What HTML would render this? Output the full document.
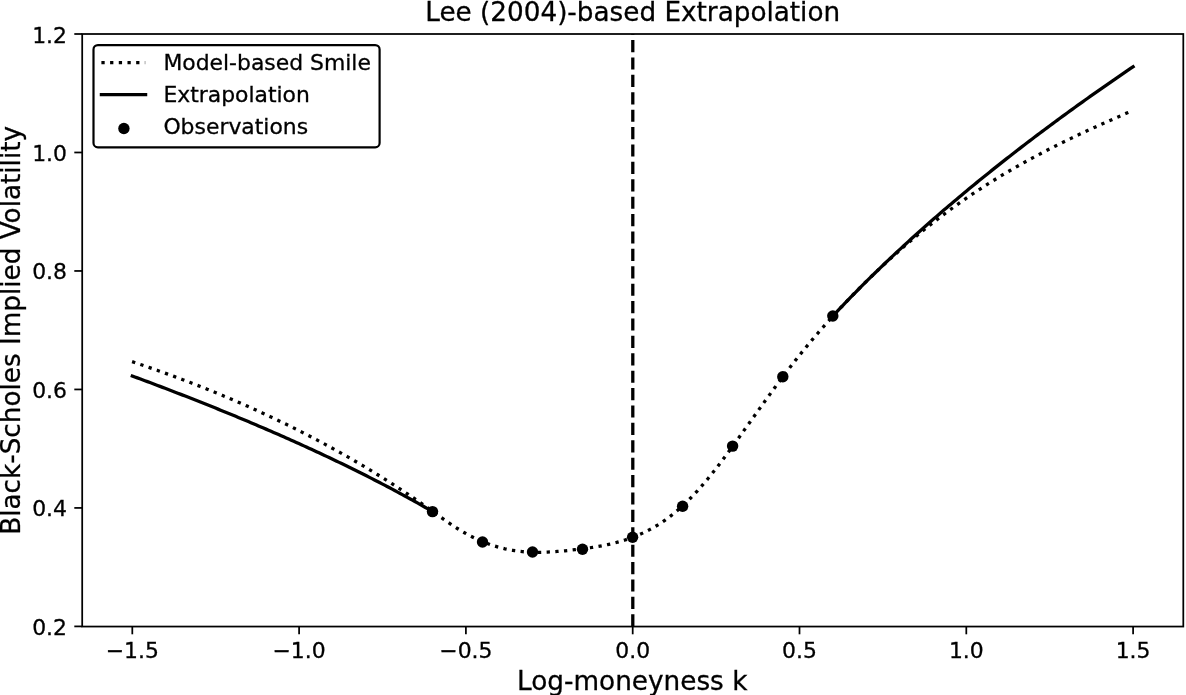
<!DOCTYPE html>
<html><head><meta charset="utf-8"><title>Lee (2004)-based Extrapolation</title>
<style>html,body{margin:0;padding:0;background:#fff;overflow:hidden}svg{display:block}text{font-family:"DejaVu Sans","Liberation Sans",sans-serif;fill:#000;stroke:#000;stroke-width:0.3px}</style></head><body>
<svg width="1186" height="695" viewBox="0 0 1186 695">
<rect width="1186" height="695" fill="#fff"/>
<g stroke="#000" stroke-width="1.75"><line x1="132.30" y1="626.4" x2="132.30" y2="634.3"/><line x1="299.10" y1="626.4" x2="299.10" y2="634.3"/><line x1="465.90" y1="626.4" x2="465.90" y2="634.3"/><line x1="632.70" y1="626.4" x2="632.70" y2="634.3"/><line x1="799.50" y1="626.4" x2="799.50" y2="634.3"/><line x1="966.30" y1="626.4" x2="966.30" y2="634.3"/><line x1="1133.10" y1="626.4" x2="1133.10" y2="634.3"/><line x1="82.2" y1="626.40" x2="74.30" y2="626.40"/><line x1="82.2" y1="507.92" x2="74.30" y2="507.92"/><line x1="82.2" y1="389.44" x2="74.30" y2="389.44"/><line x1="82.2" y1="270.96" x2="74.30" y2="270.96"/><line x1="82.2" y1="152.48" x2="74.30" y2="152.48"/><line x1="82.2" y1="34.00" x2="74.30" y2="34.00"/></g>
<g font-size="21.9"><text x="132.30" y="658.0" text-anchor="middle">−1.5</text><text x="299.10" y="658.0" text-anchor="middle">−1.0</text><text x="465.90" y="658.0" text-anchor="middle">−0.5</text><text x="632.70" y="658.0" text-anchor="middle">0.0</text><text x="799.50" y="658.0" text-anchor="middle">0.5</text><text x="966.30" y="658.0" text-anchor="middle">1.0</text><text x="1133.10" y="658.0" text-anchor="middle">1.5</text><text x="67.0" y="634.90" text-anchor="end">0.2</text><text x="67.0" y="516.42" text-anchor="end">0.4</text><text x="67.0" y="397.94" text-anchor="end">0.6</text><text x="67.0" y="279.46" text-anchor="end">0.8</text><text x="67.0" y="160.98" text-anchor="end">1.0</text><text x="67.0" y="42.50" text-anchor="end">1.2</text></g>
<path d="M132.10 361.66 L134.60 362.50 L137.11 363.35 L139.61 364.20 L142.11 365.05 L144.61 365.91 L147.12 366.78 L149.62 367.65 L152.12 368.52 L154.62 369.40 L157.13 370.29 L159.63 371.18 L162.13 372.08 L164.63 372.98 L167.14 373.89 L169.64 374.80 L172.14 375.72 L174.64 376.64 L177.15 377.57 L179.65 378.51 L182.15 379.45 L184.65 380.40 L187.16 381.35 L189.66 382.31 L192.16 383.28 L194.66 384.25 L197.17 385.23 L199.67 386.21 L202.17 387.20 L204.67 388.19 L207.18 389.20 L209.68 390.20 L212.18 391.22 L214.68 392.24 L217.19 393.27 L219.69 394.30 L222.19 395.34 L224.69 396.39 L227.20 397.44 L229.70 398.50 L232.20 399.57 L234.70 400.64 L237.21 401.72 L239.71 402.81 L242.21 403.90 L244.71 405.00 L247.22 406.11 L249.72 407.23 L252.22 408.35 L254.72 409.48 L257.23 410.61 L259.73 411.76 L262.23 412.91 L264.73 414.07 L267.24 415.23 L269.74 416.40 L272.24 417.58 L274.74 418.77 L277.25 419.97 L279.75 421.17 L282.25 422.38 L284.75 423.60 L287.26 424.82 L289.76 426.06 L292.26 427.30 L294.76 428.55 L297.27 429.80 L299.77 431.07 L302.27 432.34 L304.77 433.62 L307.28 434.91 L309.78 436.21 L312.28 437.51 L314.78 438.83 L317.29 440.15 L319.79 441.48 L322.29 442.82 L324.79 444.16 L327.30 445.52 L329.80 446.88 L332.30 448.25 L334.80 449.63 L337.31 451.02 L339.81 452.42 L342.31 453.83 L344.81 455.24 L347.32 456.67 L349.82 458.10 L352.32 459.54 L354.82 461.00 L357.33 462.46 L359.83 463.93 L362.33 465.41 L364.83 466.90 L367.34 468.40 L369.84 469.91 L372.34 471.43 L374.84 472.96 L377.35 474.50 L379.85 476.05 L382.35 477.61 L384.85 479.18 L387.36 480.76 L389.86 482.36 L392.36 483.96 L394.86 485.58 L397.37 487.20 L399.87 488.84 L402.37 490.49 L404.87 492.15 L407.38 493.82 L409.88 495.51 L412.38 497.20 L414.88 498.91 L417.39 500.63 L419.89 502.36 L422.39 504.10 L424.89 505.85 L427.40 507.61 L429.90 509.38 L432.40 511.17 L434.90 512.96 L437.41 514.76 L439.91 516.55 L442.41 518.33 L444.91 520.10 L447.42 521.85 L449.92 523.57 L452.42 525.26 L454.92 526.90 L457.43 528.50 L459.93 530.04 L462.43 531.53 L464.93 532.97 L467.44 534.36 L469.94 535.69 L472.44 536.97 L474.94 538.19 L477.45 539.36 L479.95 540.48 L482.45 541.55 L484.95 542.57 L487.46 543.53 L489.96 544.44 L492.46 545.30 L494.96 546.11 L497.47 546.87 L499.97 547.57 L502.47 548.22 L504.97 548.83 L507.48 549.38 L509.98 549.88 L512.48 550.33 L514.98 550.73 L517.49 551.08 L519.99 551.38 L522.49 551.64 L524.99 551.85 L527.50 552.02 L530.00 552.15 L532.50 552.24 L535.00 552.30 L537.51 552.32 L540.01 552.30 L542.51 552.26 L545.01 552.19 L547.52 552.08 L550.02 551.96 L552.52 551.81 L555.02 551.63 L557.53 551.44 L560.03 551.23 L562.53 551.00 L565.03 550.76 L567.54 550.50 L570.04 550.23 L572.54 549.95 L575.04 549.67 L577.55 549.38 L580.05 549.08 L582.55 548.77 L585.05 548.44 L587.56 548.10 L590.06 547.75 L592.56 547.37 L595.06 546.98 L597.57 546.56 L600.07 546.12 L602.57 545.65 L605.07 545.16 L607.58 544.63 L610.08 544.08 L612.58 543.49 L615.08 542.87 L617.59 542.21 L620.09 541.50 L622.59 540.76 L625.09 539.98 L627.60 539.15 L630.10 538.28 L632.60 537.35 L635.10 536.38 L637.61 535.35 L640.11 534.27 L642.61 533.13 L645.11 531.94 L647.62 530.69 L650.12 529.37 L652.62 527.99 L655.12 526.55 L657.63 525.04 L660.13 523.46 L662.63 521.81 L665.13 520.08 L667.64 518.28 L670.14 516.41 L672.64 514.45 L675.14 512.42 L677.65 510.30 L680.15 508.10 L682.65 505.82 L685.15 503.46 L687.66 501.02 L690.16 498.51 L692.66 495.92 L695.16 493.26 L697.67 490.53 L700.17 487.73 L702.67 484.87 L705.17 481.94 L707.68 478.95 L710.18 475.90 L712.68 472.80 L715.18 469.63 L717.69 466.42 L720.19 463.15 L722.69 459.84 L725.19 456.48 L727.70 453.09 L730.20 449.67 L732.70 446.22 L735.20 442.75 L737.71 439.26 L740.21 435.76 L742.71 432.26 L745.21 428.76 L747.72 425.25 L750.22 421.75 L752.72 418.24 L755.22 414.73 L757.73 411.24 L760.23 407.74 L762.73 404.26 L765.23 400.78 L767.74 397.32 L770.24 393.87 L772.74 390.44 L775.24 387.02 L777.75 383.63 L780.25 380.25 L782.75 376.90 L785.25 373.58 L787.76 370.28 L790.26 367.02 L792.76 363.78 L795.26 360.58 L797.77 357.41 L800.27 354.28 L802.77 351.18 L805.27 348.11 L807.78 345.08 L810.28 342.07 L812.78 339.10 L815.28 336.16 L817.79 333.24 L820.29 330.36 L822.79 327.50 L825.29 324.66 L827.80 321.85 L830.30 319.07 L832.80 316.31 L835.30 313.57 L837.81 310.85 L840.31 308.15 L842.81 305.48 L845.31 302.83 L847.82 300.20 L850.32 297.59 L852.82 295.00 L855.32 292.43 L857.83 289.89 L860.33 287.36 L862.83 284.86 L865.33 282.37 L867.84 279.91 L870.34 277.47 L872.84 275.05 L875.34 272.65 L877.85 270.27 L880.35 267.91 L882.85 265.57 L885.35 263.25 L887.86 260.94 L890.36 258.66 L892.86 256.40 L895.36 254.16 L897.87 251.93 L900.37 249.73 L902.87 247.54 L905.37 245.38 L907.88 243.23 L910.38 241.10 L912.88 238.99 L915.38 236.90 L917.89 234.83 L920.39 232.77 L922.89 230.73 L925.39 228.71 L927.90 226.71 L930.40 224.73 L932.90 222.76 L935.40 220.82 L937.91 218.89 L940.41 216.98 L942.91 215.08 L945.41 213.21 L947.92 211.35 L950.42 209.51 L952.92 207.68 L955.42 205.88 L957.93 204.09 L960.43 202.32 L962.93 200.57 L965.43 198.83 L967.94 197.11 L970.44 195.41 L972.94 193.72 L975.44 192.06 L977.95 190.40 L980.45 188.77 L982.95 187.14 L985.45 185.54 L987.96 183.95 L990.46 182.37 L992.96 180.81 L995.46 179.27 L997.97 177.73 L1000.47 176.22 L1002.97 174.71 L1005.47 173.22 L1007.98 171.75 L1010.48 170.29 L1012.98 168.84 L1015.48 167.40 L1017.99 165.97 L1020.49 164.56 L1022.99 163.16 L1025.49 161.78 L1028.00 160.40 L1030.50 159.04 L1033.00 157.68 L1035.50 156.34 L1038.01 155.01 L1040.51 153.69 L1043.01 152.38 L1045.51 151.08 L1048.02 149.79 L1050.52 148.51 L1053.02 147.24 L1055.52 145.98 L1058.03 144.73 L1060.53 143.49 L1063.03 142.26 L1065.53 141.03 L1068.04 139.81 L1070.54 138.61 L1073.04 137.41 L1075.54 136.21 L1078.05 135.03 L1080.55 133.85 L1083.05 132.68 L1085.55 131.51 L1088.06 130.35 L1090.56 129.20 L1093.06 128.06 L1095.56 126.92 L1098.07 125.78 L1100.57 124.65 L1103.07 123.53 L1105.57 122.41 L1108.08 121.30 L1110.58 120.19 L1113.08 119.09 L1115.58 117.99 L1118.09 116.89 L1120.59 115.80 L1123.09 114.71 L1125.59 113.62 L1128.10 112.54 L1130.60 111.46" fill="none" stroke="#000" stroke-width="3.28" stroke-dasharray="3.28 5.419"/>
<path d="M132.30 376.02 L134.82 376.95 L137.35 377.89 L139.87 378.82 L142.39 379.76 L144.92 380.70 L147.44 381.64 L149.96 382.59 L152.48 383.54 L155.01 384.49 L157.53 385.44 L160.05 386.40 L162.58 387.35 L165.10 388.31 L167.62 389.28 L170.15 390.24 L172.67 391.21 L175.19 392.18 L177.71 393.16 L180.24 394.13 L182.76 395.11 L185.28 396.09 L187.81 397.08 L190.33 398.07 L192.85 399.06 L195.38 400.05 L197.90 401.05 L200.42 402.05 L202.94 403.05 L205.47 404.05 L207.99 405.06 L210.51 406.07 L213.04 407.09 L215.56 408.10 L218.08 409.12 L220.61 410.15 L223.13 411.17 L225.65 412.20 L228.17 413.23 L230.70 414.27 L233.22 415.31 L235.74 416.35 L238.27 417.40 L240.79 418.45 L243.31 419.50 L245.84 420.55 L248.36 421.61 L250.88 422.68 L253.41 423.74 L255.93 424.81 L258.45 425.89 L260.97 426.96 L263.50 428.04 L266.02 429.13 L268.54 430.22 L271.07 431.31 L273.59 432.40 L276.11 433.50 L278.64 434.61 L281.16 435.71 L283.68 436.83 L286.20 437.94 L288.73 439.06 L291.25 440.19 L293.77 441.31 L296.30 442.44 L298.82 443.58 L301.34 444.72 L303.87 445.87 L306.39 447.02 L308.91 448.17 L311.43 449.33 L313.96 450.49 L316.48 451.66 L319.00 452.83 L321.53 454.01 L324.05 455.19 L326.57 456.38 L329.10 457.57 L331.62 458.76 L334.14 459.96 L336.67 461.17 L339.19 462.38 L341.71 463.60 L344.23 464.82 L346.76 466.05 L349.28 467.28 L351.80 468.52 L354.33 469.76 L356.85 471.01 L359.37 472.27 L361.90 473.53 L364.42 474.80 L366.94 476.07 L369.46 477.35 L371.99 478.63 L374.51 479.93 L377.03 481.22 L379.56 482.53 L382.08 483.84 L384.60 485.16 L387.13 486.48 L389.65 487.81 L392.17 489.15 L394.69 490.49 L397.22 491.84 L399.74 493.20 L402.26 494.57 L404.79 495.94 L407.31 497.33 L409.83 498.72 L412.36 500.11 L414.88 501.52 L417.40 502.93 L419.92 504.35 L422.45 505.78 L424.97 507.22 L427.49 508.67 L430.02 510.13 L432.54 511.59" fill="none" stroke="#000" stroke-width="3.28" stroke-linecap="square" stroke-linejoin="round"/>
<path d="M832.86 315.98 L835.38 313.29 L837.91 310.61 L840.43 307.95 L842.95 305.30 L845.48 302.67 L848.00 300.06 L850.52 297.46 L853.04 294.88 L855.57 292.31 L858.09 289.75 L860.61 287.21 L863.14 284.69 L865.66 282.17 L868.18 279.68 L870.71 277.19 L873.23 274.72 L875.75 272.26 L878.27 269.81 L880.80 267.38 L883.32 264.96 L885.84 262.55 L888.37 260.15 L890.89 257.76 L893.41 255.39 L895.94 253.02 L898.46 250.67 L900.98 248.33 L903.50 246.00 L906.03 243.68 L908.55 241.38 L911.07 239.08 L913.60 236.79 L916.12 234.52 L918.64 232.25 L921.17 229.99 L923.69 227.75 L926.21 225.51 L928.73 223.28 L931.26 221.06 L933.78 218.85 L936.30 216.66 L938.83 214.46 L941.35 212.28 L943.87 210.11 L946.40 207.95 L948.92 205.79 L951.44 203.65 L953.97 201.51 L956.49 199.38 L959.01 197.26 L961.53 195.14 L964.06 193.04 L966.58 190.94 L969.10 188.85 L971.63 186.77 L974.15 184.70 L976.67 182.63 L979.20 180.58 L981.72 178.52 L984.24 176.48 L986.76 174.44 L989.29 172.42 L991.81 170.39 L994.33 168.38 L996.86 166.37 L999.38 164.37 L1001.90 162.38 L1004.43 160.39 L1006.95 158.41 L1009.47 156.44 L1011.99 154.47 L1014.52 152.51 L1017.04 150.56 L1019.56 148.61 L1022.09 146.67 L1024.61 144.73 L1027.13 142.80 L1029.66 140.88 L1032.18 138.96 L1034.70 137.05 L1037.23 135.15 L1039.75 133.25 L1042.27 131.36 L1044.79 129.47 L1047.32 127.59 L1049.84 125.72 L1052.36 123.85 L1054.89 121.98 L1057.41 120.12 L1059.93 118.27 L1062.46 116.42 L1064.98 114.58 L1067.50 112.74 L1070.02 110.91 L1072.55 109.09 L1075.07 107.27 L1077.59 105.45 L1080.12 103.64 L1082.64 101.83 L1085.16 100.03 L1087.69 98.24 L1090.21 96.45 L1092.73 94.66 L1095.25 92.88 L1097.78 91.11 L1100.30 89.33 L1102.82 87.57 L1105.35 85.81 L1107.87 84.05 L1110.39 82.30 L1112.92 80.55 L1115.44 78.81 L1117.96 77.07 L1120.48 75.34 L1123.01 73.61 L1125.53 71.88 L1128.05 70.16 L1130.58 68.45 L1133.10 66.73" fill="none" stroke="#000" stroke-width="3.28" stroke-linecap="square" stroke-linejoin="round"/>
<line x1="632.8000000000001" y1="626.4" x2="632.8000000000001" y2="34.0" stroke="#000" stroke-width="3.28" stroke-dasharray="12.15 5.25"/>
<g fill="#000"><circle cx="432.5" cy="511.6" r="5.7"/><circle cx="482.5" cy="542.0" r="5.7"/><circle cx="532.5" cy="552.0" r="5.7"/><circle cx="582.5" cy="549.3" r="5.7"/><circle cx="632.6" cy="537.2" r="5.7"/><circle cx="682.6" cy="506.3" r="5.7"/><circle cx="732.6" cy="446.1" r="5.7"/><circle cx="782.8" cy="376.7" r="5.7"/><circle cx="832.8" cy="316.0" r="5.7"/></g>
<rect x="82.2" y="34.0" width="1101.10" height="592.55" fill="none" stroke="#000" stroke-width="1.75"/>
<text x="632.7" y="20.9" font-size="26.25" text-anchor="middle">Lee (2004)-based Extrapolation</text>
<text x="632.2" y="689.7" font-size="26.3" text-anchor="middle">Log-moneyness k</text>
<text transform="translate(19.6 330.4) rotate(-90)" font-size="26.25" text-anchor="middle">Black-Scholes Implied Volatility</text>
<rect x="93.5" y="45.1" width="286.1" height="102.2" rx="4.4" ry="4.4" fill="#fff" stroke="#000" stroke-width="2.19"/>
<line x1="101.4" y1="62.6" x2="145.2" y2="62.6" stroke="#000" stroke-width="3.28" stroke-dasharray="3.28 5.41"/>
<line x1="101.4" y1="94.6" x2="145.6" y2="94.6" stroke="#000" stroke-width="3.28" stroke-linecap="square"/>
<circle cx="123.9" cy="128.5" r="5.7" fill="#000"/>
<g font-size="21.9"><text x="163.4" y="70.3">Model-based Smile</text><text x="163.4" y="102.4">Extrapolation</text><text x="163.4" y="134.3">Observations</text></g>
</svg></body></html>
